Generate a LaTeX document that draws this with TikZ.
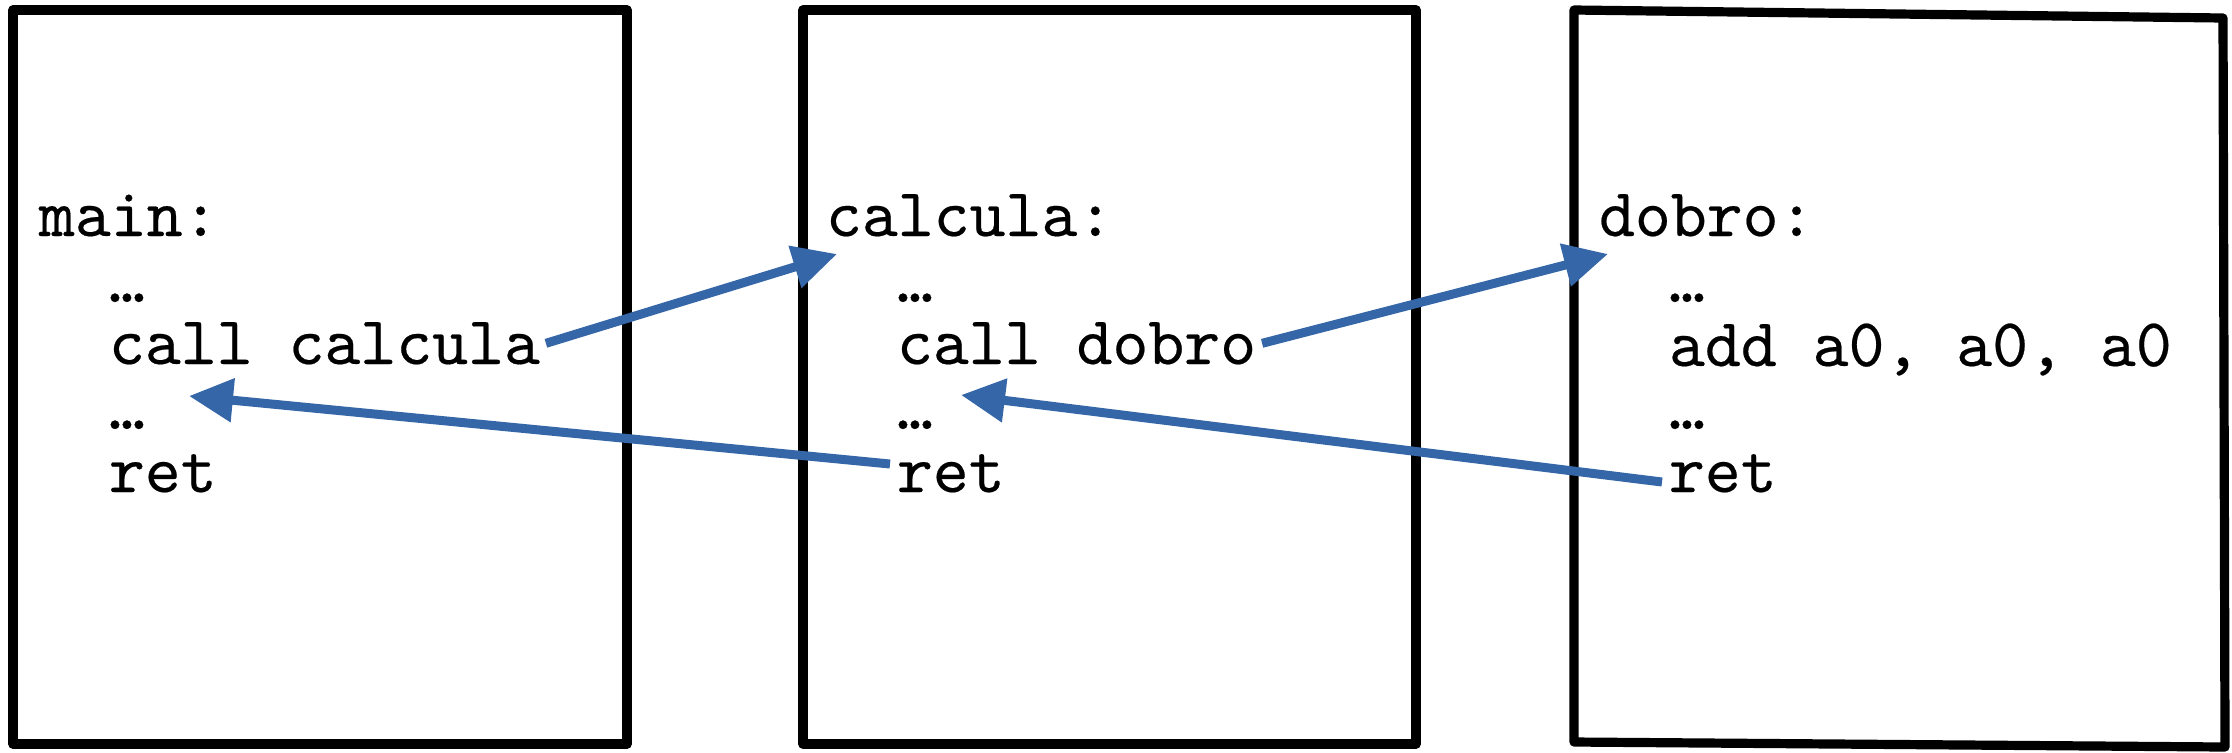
\documentclass[tikz,border=0pt]{standalone}
\usepackage{fontspec}
\newfontfamily\codefont{lmmono10-regular}[Extension=.otf, FakeBold=0.3]
\usetikzlibrary{arrows.meta}
\definecolor{callblue}{RGB}{53,103,168}
\tikzset{
  frame/.style={draw=black, line width=4.6pt, line join=round},
  code/.style={anchor=base west, inner sep=0pt, outer sep=0pt,
    font=\fontsize{34.2}{40}\selectfont\codefont},
  jump/.style={draw=callblue, line width=4.5pt,
    -{Triangle[length=22pt, width=21pt]}}
}
\begin{document}
\begin{tikzpicture}[x=0.5pt, y=-0.5pt]
\useasboundingbox (0,0) rectangle (2232,752);

% the three routine frames
\draw[frame] (13,10) rectangle (627,744);
\draw[frame] (803,10) rectangle (1416,744);
\draw[frame] (1574,10) -- (2223,18) -- (2225,747) -- (1574,742) -- cycle;

% main
\node[code] (m0) at (39,236)  {main:};
\node[code] (m1) at (109,302) {…};
\node[code] (m2) at (109,364) {call calcula};
\node[code] (m3) at (109,429) {…};
\node[code] (m4) at (109,492) {ret};

% calcula
\node[code] (c0) at (826,236) {calcula:};
\node[code] (c1) at (897,302) {…};
\node[code] (c2) at (897,364) {call dobro};
\node[code] (c3) at (897,429) {…};
\node[code] (c4) at (897,492) {ret};

% dobro
\node[code] (d0) at (1599,236) {dobro:};
\node[code] (d1) at (1669,302) {…};
\node[code] (d2) at (1669,366) {add a0, a0, a0};
\node[code] (d3) at (1669,429) {…};
\node[code] (d4) at (1669,492) {ret};

% calls
\draw[jump] ([xshift=3pt]m2.east) -- ([xshift=5.5pt,yshift=-9pt]c0.base west);
\draw[jump] ([xshift=3pt]c2.east) -- ([xshift=4.5pt,yshift=-9pt]d0.base west);

% returns
\draw[jump] ([xshift=-3.5pt,yshift=14pt]c4.base west) -- ([xshift=40pt,yshift=-16pt]m2.base west);
\draw[jump] ([xshift=-3.5pt,yshift=5pt]d4.base west) -- ([xshift=32pt,yshift=-15.5pt]c2.base west);
\end{tikzpicture}
\end{document}
